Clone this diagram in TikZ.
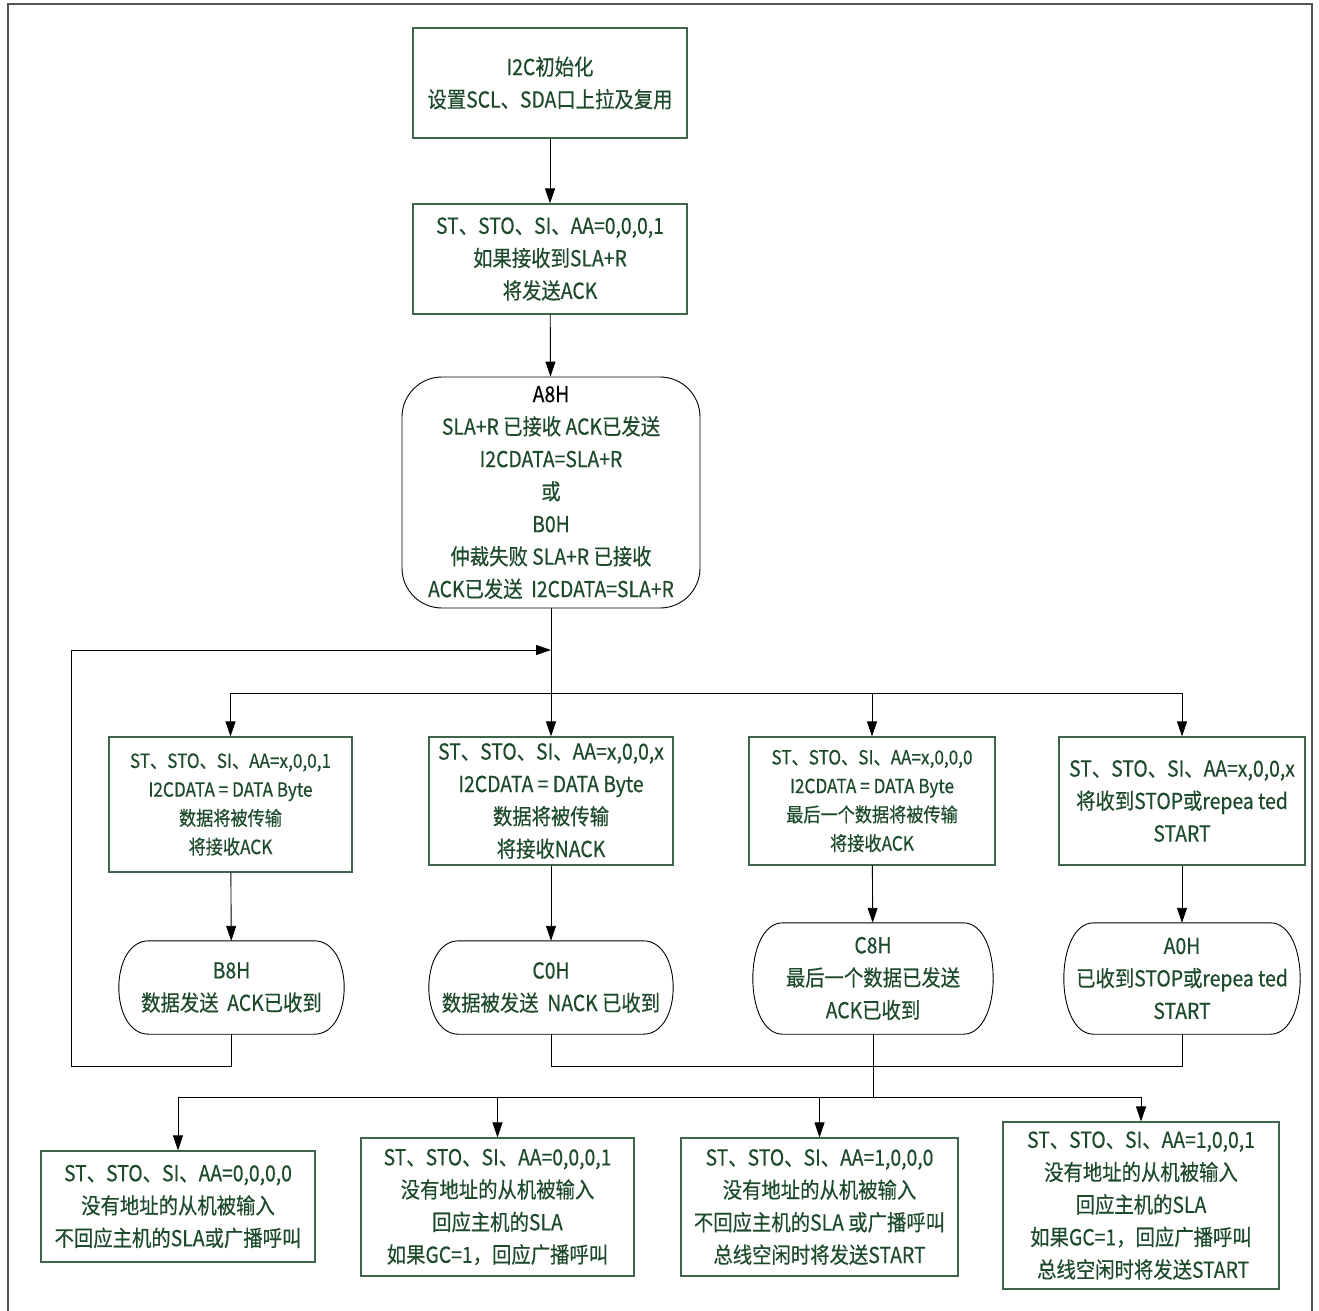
\documentclass[tikz,border=0pt]{standalone}
\usepackage{fontspec}
\setmainfont[FakeStretch=0.88,FakeBold=0.4]{Noto Sans CJK SC}
\usetikzlibrary{arrows.meta,calc}
\definecolor{tgreen}{RGB}{30,74,44}
\definecolor{bgreen}{RGB}{62,100,76}
\definecolor{framegray}{RGB}{85,85,85}
\newcommand\fsA{\fontsize{22}{32.5}\selectfont}
\newcommand\fsB{\fontsize{19.5}{28.7}\selectfont}
\newcommand\stadout[2]{\draw[stadline] ([xshift=#2pt]#1.north west) -- ([xshift=-#2pt]#1.north east) .. controls ([xshift=#2pt/3]#1.north east) and ([xshift=#2pt/3]#1.south east) .. ([xshift=-#2pt]#1.south east) -- ([xshift=#2pt]#1.south west) .. controls ([xshift=-#2pt/3]#1.south west) and ([xshift=-#2pt/3]#1.north west) .. ([xshift=#2pt]#1.north west) -- cycle;}
\tikzset{
  base/.style={align=center, inner sep=0pt, text=tgreen, font=\fsA},
  small/.style={font=\fsB},
  box/.style={base, draw=bgreen, line width=1.2pt},
  rbox/.style={base, draw=black, line width=0.9pt, rounded corners=40pt},
  stad/.style={base},
  stadline/.style={draw=black, line width=0.9pt},
  arr/.style={-{Triangle[length=15pt,width=10pt]}, line width=0.9pt, draw=black},
  ln/.style={line width=0.9pt, draw=black},
  framesty/.style={draw=framegray, line width=1.5pt}
}
\begin{document}
\begin{tikzpicture}[x=1pt,y=-1pt]
\useasboundingbox (0,0) rectangle (1319,1310);
\fill[white] (0,0) rectangle (1319,1310);
\draw[framesty] (8,1312) -- (8,4) -- (1312,4) -- (1312,1312);

% top column
\node[box, minimum width=274pt, minimum height=110pt] (init) at (550,83) {I2C初始化\\设置SCL、SDA口上拉及复用};
\node[box, minimum width=274pt, minimum height=110pt] (set1) at (550,259) {ST、STO、SI、AA=0,0,0,1\\如果接收到SLA+R\\将发送ACK};
\node[rbox, minimum width=298pt, minimum height=231pt] (a8h) at (551,492.5) {{\color{black}A8H}\\SLA+R 已接收 ACK已发送\\I2CDATA=SLA+R\\或\\B0H\\仲裁失败 SLA+R 已接收\\ACK已发送\ \ I2CDATA=SLA+R};

% second row
\node[box, small, minimum width=243pt, minimum height=135pt] (s1) at (230.5,804.5) {ST、STO、SI、AA=x,0,0,1\\I2CDATA = DATA Byte\\数据将被传输\\将接收ACK};
\node[box, minimum width=244pt, minimum height=128pt] (s2) at (551,801) {ST、STO、SI、AA=x,0,0,x\\I2CDATA = DATA Byte\\数据将被传输\\将接收NACK};
\node[box, small, minimum width=246pt, minimum height=128pt] (s3) at (872,801) {ST、STO、SI、AA=x,0,0,0\\I2CDATA = DATA Byte\\最后一个数据将被传输\\将接收ACK};
\node[box, minimum width=246pt, minimum height=128pt] (s4) at (1182,801) {ST、STO、SI、AA=x,0,0,x\\将收到STOP或repea ted\\START};

% status row
\node[stad, minimum width=225pt, minimum height=93pt] (b8h) at (231.5,987.5) {B8H\\数据发送\ \ ACK已收到};
\node[stad, minimum width=244pt, minimum height=93pt] (c0h) at (551,987.5) {C0H\\数据被发送\ \ NACK 已收到};
\node[stad, minimum width=240pt, minimum height=111pt] (c8h) at (873,978.5) {C8H\\最后一个数据已发送\\ACK已收到};
\node[stad, minimum width=236pt, minimum height=111pt] (a0h) at (1182,978.5) {A0H\\已收到STOP或repea ted\\START};
\stadout{b8h}{30}
\stadout{c0h}{30}
\stadout{c8h}{30}
\stadout{a0h}{30}

% bottom row
\node[box, minimum width=274pt, minimum height=111pt] (d1) at (178,1206.5) {ST、STO、SI、AA=0,0,0,0\\没有地址的从机被输入\\不回应主机的SLA或广播呼叫};
\node[box, minimum width=273pt, minimum height=138pt] (d2) at (497.5,1207) {ST、STO、SI、AA=0,0,0,1\\没有地址的从机被输入\\回应主机的SLA\\如果GC=1，回应广播呼叫};
\node[box, minimum width=277pt, minimum height=138pt] (d3) at (819.5,1207) {ST、STO、SI、AA=1,0,0,0\\没有地址的从机被输入\\不回应主机的SLA 或广播呼叫\\总线空闲时将发送START};
\node[box, minimum width=276pt, minimum height=167pt] (d4) at (1141,1205.5) {ST、STO、SI、AA=1,0,0,1\\没有地址的从机被输入\\回应主机的SLA\\如果GC=1，回应广播呼叫\\\ 总线空闲时将发送START};

% coordinates
\coordinate (j1) at (551,693);
\coordinate (lp1) at (71,1066);
\coordinate (lp2) at (71,650);
\coordinate (lp3) at (551,650);
\coordinate (j2) at (873,1066);
\coordinate (j3) at (873,1097);

% connectors
\draw[arr] (init) -- (set1);
\draw[arr] (set1) -- (a8h);
\draw[ln] (a8h.south) -- (j1);
\draw[arr] (j1) -| (s1.north);
\draw[arr] (j1) -- (s2.north);
\draw[arr] (j1) -| (s3.north);
\draw[arr] (j1) -| (s4.north);
\draw[arr] (s1) -- (b8h);
\draw[arr] (s2) -- (c0h);
\draw[arr] (s3) -- (c8h);
\draw[arr] (s4) -- (a0h);
\draw[arr] (b8h.south) |- (lp1) -- (lp2) -- (lp3);
\draw[ln] (c0h.south) |- (j2) -| (a0h.south);
\draw[ln] (c8h.south) -- (j3);
\draw[arr] (j3) -| (d1.north);
\draw[arr] (j3) -| (d2.north);
\draw[arr] (j3) -| (d3.north);
\draw[arr] (j3) -| (d4.north);
\end{tikzpicture}
\end{document}
